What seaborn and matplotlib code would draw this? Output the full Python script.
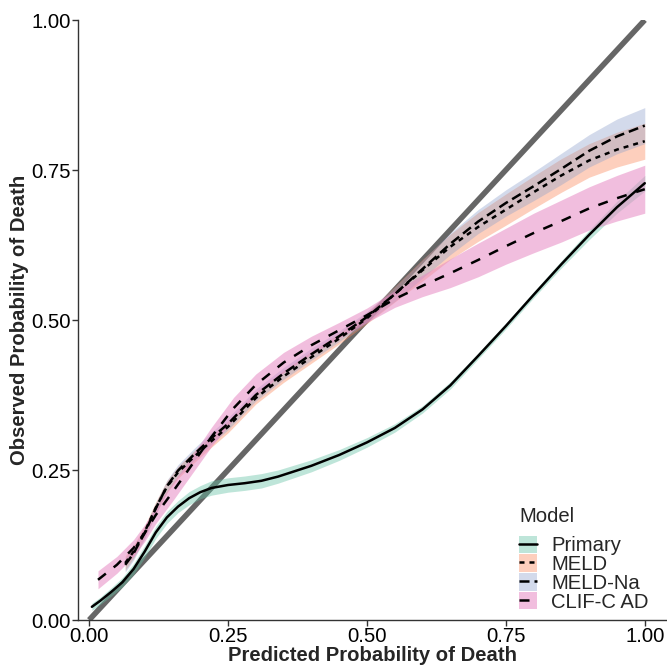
import numpy as np
import pandas as pd
import matplotlib
matplotlib.use("Agg")
import matplotlib.pyplot as plt
from matplotlib.patches import Patch
from matplotlib.lines import Line2D
import seaborn as sns

sns.set_style("ticks")
plt.rcParams["font.family"] = ["Liberation Sans", "DejaVu Sans"]

# calibration curves
models = ["Primary", "MELD", "MELD-Na", "CLIF-C AD"]

primary_x = [0.005, 0.02, 0.04, 0.06, 0.08, 0.10, 0.12, 0.14, 0.16, 0.18, 0.20, 0.22, 0.25, 0.28, 0.31,
             0.34, 0.40, 0.45, 0.50, 0.55, 0.60, 0.65, 0.70, 0.75, 0.80, 0.85, 0.90, 0.95, 1.00]
primary_y = [0.022, 0.032, 0.047, 0.063, 0.085, 0.114, 0.146, 0.171, 0.189, 0.203, 0.213, 0.220, 0.225, 0.228, 0.232,
             0.239, 0.257, 0.275, 0.296, 0.320, 0.351, 0.391, 0.440, 0.490, 0.542, 0.593, 0.642, 0.688, 0.728]
primary_hw = [0.006, 0.006, 0.007, 0.008, 0.009, 0.010, 0.010, 0.010, 0.010, 0.011, 0.011, 0.012, 0.012, 0.012, 0.012,
              0.011, 0.010, 0.009, 0.008, 0.007, 0.006, 0.006, 0.005, 0.005, 0.005, 0.006, 0.008, 0.010, 0.013]

meld_x = [0.065, 0.08, 0.10, 0.12, 0.14, 0.16, 0.19, 0.22, 0.25, 0.30, 0.35, 0.40, 0.45, 0.50,
          0.55, 0.60, 0.65, 0.70, 0.75, 0.80, 0.85, 0.90, 0.95, 1.00]
meld_y = [0.095, 0.114, 0.147, 0.187, 0.222, 0.246, 0.273, 0.298, 0.322, 0.370, 0.406, 0.438, 0.469, 0.503,
          0.543, 0.583, 0.622, 0.655, 0.684, 0.713, 0.741, 0.766, 0.784, 0.798]
meld_hw = [0.012, 0.011, 0.010, 0.010, 0.010, 0.010, 0.010, 0.010, 0.010, 0.010, 0.010, 0.010, 0.009, 0.009,
           0.013, 0.018, 0.021, 0.024, 0.026, 0.027, 0.028, 0.028, 0.029, 0.030]

meldna_x = [0.065, 0.08, 0.10, 0.12, 0.14, 0.16, 0.19, 0.22, 0.25, 0.30, 0.35, 0.40, 0.45, 0.50,
            0.55, 0.60, 0.65, 0.70, 0.75, 0.80, 0.85, 0.90, 0.95, 1.00]
meldna_y = [0.092, 0.111, 0.145, 0.186, 0.223, 0.249, 0.277, 0.303, 0.327, 0.375, 0.411, 0.443, 0.473, 0.505,
            0.543, 0.585, 0.627, 0.664, 0.695, 0.723, 0.752, 0.782, 0.806, 0.824]
meldna_hw = [0.012, 0.011, 0.010, 0.010, 0.010, 0.010, 0.010, 0.010, 0.010, 0.010, 0.010, 0.010, 0.009, 0.009,
             0.012, 0.015, 0.018, 0.020, 0.022, 0.024, 0.026, 0.027, 0.029, 0.030]

clif_x = [0.016, 0.05, 0.08, 0.10, 0.12, 0.15, 0.18, 0.22, 0.26, 0.30, 0.35, 0.40, 0.45,
          0.50, 0.55, 0.60, 0.65, 0.70, 0.75, 0.80, 0.85, 0.90, 0.95, 1.00]
clif_y = [0.067, 0.092, 0.120, 0.145, 0.175, 0.213, 0.252, 0.305, 0.353, 0.392, 0.429, 0.458, 0.483,
          0.508, 0.535, 0.557, 0.578, 0.600, 0.623, 0.645, 0.665, 0.686, 0.703, 0.718]
clif_hw = [0.015, 0.014, 0.014, 0.014, 0.014, 0.015, 0.015, 0.016, 0.018, 0.018, 0.017, 0.015, 0.013,
           0.012, 0.014, 0.018, 0.024, 0.028, 0.030, 0.033, 0.035, 0.036, 0.038, 0.040]

band_colors = {"Primary": "#66c2a5", "MELD": "#fc8d62", "MELD-Na": "#8da0cb", "CLIF-C AD": "#e78ac3"}
band_alpha = {"Primary": 0.42, "MELD": 0.42, "MELD-Na": 0.38, "CLIF-C AD": 0.55}
line_dashes = {"Primary": "", "MELD": (2, 2), "MELD-Na": (4, 2), "CLIF-C AD": (4, 4)}

curves = {"Primary": (primary_x, primary_y, primary_hw),
          "MELD": (meld_x, meld_y, meld_hw),
          "MELD-Na": (meldna_x, meldna_y, meldna_hw),
          "CLIF-C AD": (clif_x, clif_y, clif_hw)}

frames = []
for m in models:
    x, y, hw = curves[m]
    d = pd.DataFrame({"pred": x, "obs": y, "hw": hw})
    d["lo"] = d["obs"] - d["hw"]
    d["hi"] = d["obs"] + d["hw"]
    d["Model"] = m
    frames.append(d)
df = pd.concat(frames, ignore_index=True)

fig = plt.figure(figsize=(6.67, 6.65), dpi=100)
ax = fig.add_axes([78 / 667, 45 / 665, 1 - 78 / 667, 600 / 665])

# ideal calibration line
ax.plot([0, 1], [0, 1], color="#666666", lw=4, solid_capstyle="butt", zorder=1)

for m in models:
    d = df[df["Model"] == m]
    ax.fill_between(d["pred"], d["lo"], d["hi"], color=band_colors[m], alpha=band_alpha[m],
                    linewidth=0, zorder=2)

sns.lineplot(data=df, x="pred", y="obs", style="Model", style_order=models,
             dashes=line_dashes, color="black", lw=1.8, estimator=None, sort=True,
             legend=False, ax=ax, zorder=3)

ax.set_xlim(-0.02, 1.04)
ax.set_ylim(0, 1)
ax.set_xticks([0, 0.25, 0.5, 0.75, 1.0])
ax.set_yticks([0, 0.25, 0.5, 0.75, 1.0])
ax.set_xticklabels(["0.00", "0.25", "0.50", "0.75", "1.00"])
ax.set_yticklabels(["0.00", "0.25", "0.50", "0.75", "1.00"])
ax.tick_params(labelsize=14.6, length=4, width=1, color="#333333", labelcolor="black", pad=1)
ax.set_xlabel("Predicted Probability of Death", fontsize=14.6, fontweight="bold", labelpad=0)
ax.set_ylabel("Observed Probability of Death", fontsize=14.6, fontweight="bold", labelpad=2)
sns.despine(ax=ax)
for s in ["left", "bottom"]:
    ax.spines[s].set_color("#333333")
    ax.spines[s].set_linewidth(1)

handles = []
for m in models:
    p = Patch(facecolor=band_colors[m], alpha=band_alpha[m], edgecolor="none")
    ln = Line2D([], [], color="black", lw=1.8,
                linestyle="-" if m == "Primary" else (0, line_dashes[m]))
    handles.append((p, ln))
leg = fig.legend(handles, models, title="Model", loc="upper left",
                 bbox_to_anchor=(519 / 667, 1 - 507 / 665), frameon=False,
                 fontsize=14.6, title_fontsize=14.6, handlelength=0.9, handleheight=0.95,
                 handletextpad=0.7, labelspacing=-0.05, borderpad=0, borderaxespad=0,
                 alignment="left")
leg._legend_box.sep = 7

plt.savefig("out.png", dpi=100)
plt.close()
